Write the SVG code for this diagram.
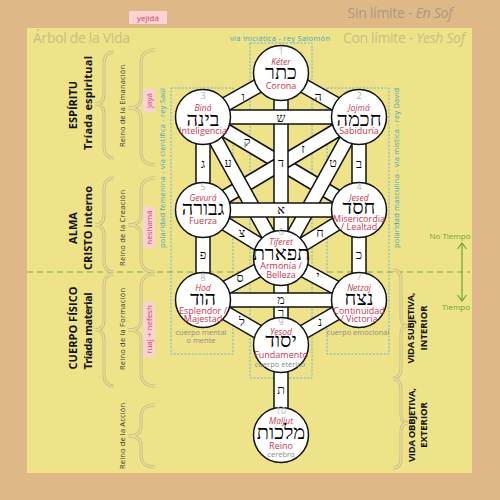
<svg xmlns="http://www.w3.org/2000/svg" width="500" height="500" viewBox="0 0 500 500">
<style>
.s{font-family:"Open Sans","Noto Sans","DejaVu Sans",sans-serif}
.he{font-family:"Liberation Serif","DejaVu Sans",serif;fill:#000}
.num{font-family:"Open Sans","Noto Sans",sans-serif;font-size:9px;fill:#b4b4b4;text-anchor:middle}
.nm{font-family:"Open Sans","Noto Sans",sans-serif;font-size:8.5px;font-style:italic;fill:#c8354f;text-anchor:middle}
.tr{font-family:"Open Sans","Noto Sans",sans-serif;font-size:9px;fill:#c8354f;text-anchor:middle}
.gr{font-family:"Open Sans","Noto Sans",sans-serif;font-size:7.5px;fill:#8c8c8c;text-anchor:middle}
.hb{font-size:20px;text-anchor:middle}
.pl{font-size:12.5px;text-anchor:middle}
.bo{stroke:#111;stroke-width:15.5;fill:none}
.bi{stroke:#fff;stroke-width:12.5;fill:none}
.circ{fill:#fff;stroke:#111;stroke-width:1.5}
.box{fill:none;stroke:#5ab0d6;stroke-width:0.9;stroke-dasharray:2 1.6}
.teal{fill:#3ea6c6;font-size:7.5px;text-anchor:middle}
.br1{fill:none;stroke:#c4bb8e;stroke-width:3}
.br2{fill:none;stroke:#efe38a;stroke-width:1.3}
.bold{font-weight:bold;fill:#111;text-anchor:middle}
.reino{font-size:7.5px;fill:#333;text-anchor:middle}
.pk{fill:#f9d3d6}
.pkt{font-size:8px;fill:#cf3f63;text-anchor:middle}
.grn{fill:#5fa83a;font-size:8px;text-anchor:middle}
</style>

<rect x="0" y="0" width="500" height="500" fill="#dfb887"/>
<rect x="27" y="28" width="445" height="445" fill="#efe38a"/>

<text class="s" x="400" y="18" text-anchor="middle" font-size="14" fill="#a89b86" textLength="105">Sin límite - <tspan font-style="italic">En Sof</tspan></text>
<text class="s" x="404" y="43" text-anchor="middle" font-size="14" fill="#c8bf80" textLength="122">Con límite - <tspan font-style="italic">Yesh Sof</tspan></text>
<text class="s" x="33" y="43" font-size="14" fill="#c8bf80" textLength="97">Árbol de la Vida</text>

<rect class="pk" x="129" y="11" width="38" height="13"/>
<text class="s pkt" x="148" y="20.5">yejidá</text>

<text class="s teal" x="280" y="40.5" textLength="100">vía iniciática - rey Salomón</text>

<!-- dashed boxes -->
<rect class="box" x="171" y="88" width="62" height="266"/>
<rect class="box" x="250" y="43" width="62" height="335"/>
<rect class="box" x="327" y="88" width="62" height="266"/>

<text class="s teal" transform="translate(165,168) rotate(-90)" textLength="160">polaridad femenina - vía científica - rey Saúl</text>
<text class="s teal" transform="translate(399,168) rotate(-90)" textLength="160">polaridad masculina - vía mística - rey David</text>

<!-- green time line -->
<line x1="27" y1="272" x2="470" y2="272" stroke="#72b040" stroke-width="1.2" stroke-dasharray="6 4"/>
<line x1="462" y1="243" x2="462" y2="301" stroke="#5fa83a" stroke-width="1.2"/>
<polyline points="457.5,249 462,243 466.5,249" fill="none" stroke="#5fa83a" stroke-width="1.2"/>
<polyline points="457.5,295 462,301 466.5,295" fill="none" stroke="#5fa83a" stroke-width="1.2"/>
<text class="s grn" x="450" y="239">No Tiempo</text>
<text class="s grn" x="456" y="310">Tiempo</text>

<g id="braces">
<path class="br1" d="M114,52 Q104,52 104,64 L104,94 Q104,104 95,104 Q104,104 104,114 L104,146 Q104,158 114,158"/>
<path class="br2" d="M114,52 Q104,52 104,64 L104,94 Q104,104 95,104 Q104,104 104,114 L104,146 Q104,158 114,158"/>
<path class="br1" d="M114,178 Q104,178 104,190 L104,215 Q104,225 95,225 Q104,225 104,235 L104,260 Q104,272 114,272"/>
<path class="br2" d="M114,178 Q104,178 104,190 L104,215 Q104,225 95,225 Q104,225 104,235 L104,260 Q104,272 114,272"/>
<path class="br1" d="M114,274 Q104,274 104,286 L104,320 Q104,330 95,330 Q104,330 104,340 L104,374 Q104,386 114,386"/>
<path class="br2" d="M114,274 Q104,274 104,286 L104,320 Q104,330 95,330 Q104,330 104,340 L104,374 Q104,386 114,386"/>

<path class="br1" d="M155,50 Q141,50 141,64 L141,98 Q141,108 128,108 Q141,108 141,118 L141,151 Q141,165 155,165"/>
<path class="br2" d="M155,50 Q141,50 141,64 L141,98 Q141,108 128,108 Q141,108 141,118 L141,151 Q141,165 155,165"/>
<path class="br1" d="M155,178 Q141,178 141,192 L141,215 Q141,225 128,225 Q141,225 141,235 L141,258 Q141,272 155,272"/>
<path class="br2" d="M155,178 Q141,178 141,192 L141,215 Q141,225 128,225 Q141,225 141,235 L141,258 Q141,272 155,272"/>
<path class="br1" d="M155,274 Q141,274 141,288 L141,320 Q141,330 128,330 Q141,330 141,340 L141,372 Q141,386 155,386"/>
<path class="br2" d="M155,274 Q141,274 141,288 L141,320 Q141,330 128,330 Q141,330 141,340 L141,372 Q141,386 155,386"/>
<path class="br1" d="M155,405 Q141,405 141,417 L141,427 Q141,436 128,436 Q141,436 141,445 L141,455 Q141,467 155,467"/>
<path class="br2" d="M155,405 Q141,405 141,417 L141,427 Q141,436 128,436 Q141,436 141,445 L141,455 Q141,467 155,467"/>

<path class="br1" d="M393,270 Q401,270 401,280 L401,318 Q401,326 408,326 Q401,326 401,334 L401,368 Q401,378 393,378"/>
<path class="br2" d="M393,270 Q401,270 401,280 L401,318 Q401,326 408,326 Q401,326 401,334 L401,368 Q401,378 393,378"/>
<path class="br1" d="M393,379 Q401,379 401,389 L401,415 Q401,423 408,423 Q401,423 401,431 L401,458 Q401,468 393,468"/>
<path class="br2" d="M393,379 Q401,379 401,389 L401,415 Q401,423 408,423 Q401,423 401,431 L401,458 Q401,468 393,468"/>
</g>

<g class="s">
<text class="bold" font-size="11" transform="translate(77,105) rotate(-90)">ESPÍRITU</text>
<text class="bold" font-size="11" transform="translate(92,103) rotate(-90)" textLength="94">Tríada espiritual</text>
<text class="bold" font-size="11" transform="translate(77,228) rotate(-90)">ALMA</text>
<text class="bold" font-size="11" transform="translate(92,228) rotate(-90)" textLength="84">CRISTO interno</text>
<text class="bold" font-size="11" transform="translate(77,328) rotate(-90)" textLength="83">CUERPO FÍSICO</text>
<text class="bold" font-size="11" transform="translate(92,331) rotate(-90)" textLength="77">Tríada material</text>

<text class="reino" transform="translate(125,106) rotate(-90)" textLength="82">Reino de la Emanación</text>
<text class="reino" transform="translate(125,228) rotate(-90)" textLength="76">Reino de la Creación</text>
<text class="reino" transform="translate(125,329) rotate(-90)" textLength="82">Reino de la Formación</text>
<text class="reino" transform="translate(125,436) rotate(-90)" textLength="66">Reino de la Acción</text>

<rect class="pk" x="143" y="89" width="12" height="23"/>
<text class="pkt" transform="translate(152,100.5) rotate(-90)">jayá</text>
<rect class="pk" x="143" y="207" width="12" height="41"/>
<text class="pkt" transform="translate(152,227.5) rotate(-90)">neshamá</text>
<rect class="pk" x="143" y="302" width="12" height="55"/>
<text class="pkt" transform="translate(152,329.5) rotate(-90)">rúaj + nefesh</text>

<text class="bold" font-size="9.5" transform="translate(414,328) rotate(-90)" textLength="71">VIDA SUBJETIVA,</text>
<text class="bold" font-size="9.5" transform="translate(427,328) rotate(-90)">INTERIOR</text>
<text class="bold" font-size="9.5" transform="translate(415,425) rotate(-90)" textLength="74">VIDA OBBJETIVA,</text>
<text class="bold" font-size="9.5" transform="translate(427,425) rotate(-90)">EXTERIOR</text>
</g>

<g id="connectors">
<line class="bo" x1="281" y1="73" x2="359" y2="117"/><line class="bi" x1="281" y1="73" x2="359" y2="117"/>
<line class="bo" x1="281" y1="73" x2="203" y2="117"/><line class="bi" x1="281" y1="73" x2="203" y2="117"/>
<line class="bo" x1="203" y1="117" x2="359" y2="210"/><line class="bi" x1="203" y1="117" x2="359" y2="210"/>
<line class="bo" x1="359" y1="117" x2="203" y2="210"/><line class="bi" x1="359" y1="117" x2="203" y2="210"/>
<line class="bo" x1="203" y1="117" x2="281" y2="258"/><line class="bi" x1="203" y1="117" x2="281" y2="258"/>
<line class="bo" x1="359" y1="117" x2="281" y2="258"/><line class="bi" x1="359" y1="117" x2="281" y2="258"/>
<line class="bo" x1="203" y1="210" x2="281" y2="258"/><line class="bi" x1="203" y1="210" x2="281" y2="258"/>
<line class="bo" x1="359" y1="210" x2="281" y2="258"/><line class="bi" x1="359" y1="210" x2="281" y2="258"/>
<line class="bo" x1="281" y1="258" x2="203" y2="300"/><line class="bi" x1="281" y1="258" x2="203" y2="300"/>
<line class="bo" x1="281" y1="258" x2="359" y2="300"/><line class="bi" x1="281" y1="258" x2="359" y2="300"/>
<line class="bo" x1="203" y1="300" x2="281" y2="345"/><line class="bi" x1="203" y1="300" x2="281" y2="345"/>
<line class="bo" x1="359" y1="300" x2="281" y2="345"/><line class="bi" x1="359" y1="300" x2="281" y2="345"/>
<line class="bo" x1="281" y1="73" x2="281" y2="258"/><line class="bi" x1="281" y1="73" x2="281" y2="258"/>
<line class="bo" x1="203" y1="117" x2="203" y2="300"/><line class="bi" x1="203" y1="117" x2="203" y2="300"/>
<line class="bo" x1="359" y1="117" x2="359" y2="300"/><line class="bi" x1="359" y1="117" x2="359" y2="300"/>
<line class="bo" x1="281" y1="258" x2="281" y2="435"/><line class="bi" x1="281" y1="258" x2="281" y2="435"/>
<line class="bo" x1="203" y1="117" x2="359" y2="117"/><line class="bi" x1="203" y1="117" x2="359" y2="117"/>
<line class="bo" x1="203" y1="210" x2="359" y2="210"/><line class="bi" x1="203" y1="210" x2="359" y2="210"/>
<line class="bo" x1="203" y1="300" x2="359" y2="300"/><line class="bi" x1="203" y1="300" x2="359" y2="300"/>
<g class="he pl">
<text x="318" y="101">ה</text>
<text x="243" y="101">ו</text>
<text x="281" y="122">ש</text>
<text x="247" y="146">ק</text>
<text x="303" y="153">ז</text>
<text x="228" y="167">ע</text>
<text x="333" y="167">ט</text>
<text x="203" y="168">ג</text>
<text x="359" y="168">ב</text>
<text x="281" y="167">ד</text>
<text x="281" y="214">א</text>
<text x="242" y="237">צ</text>
<text x="320" y="237">ח</text>
<text x="203" y="259">פ</text>
<text x="359" y="259">כ</text>
<text x="240" y="282">ס</text>
<text x="318" y="280">י</text>
<text x="281" y="304">מ</text>
<text x="281" y="317">ר</text>
<text x="242" y="326">ל</text>
<text x="320" y="326">נ</text>
<text x="281" y="394">ת</text>
</g>
</g>

<g id="keter">
<circle class="circ" cx="281" cy="73" r="27.5"/>
<text class="num" x="281" y="54">1</text>
<text class="nm" x="281" y="64.5">Kéter</text>
<text class="he hb" x="281" y="79">כתר</text>
<text class="tr" x="281" y="89">Corona</text>
</g>
<g id="bina">
<circle class="circ" cx="203" cy="117" r="27.5"/>
<text class="num" x="203" y="99">3</text>
<text class="nm" x="203" y="110.5">Biná</text>
<text class="he hb" x="203" y="126">בינה</text>
<text class="tr" x="203" y="134">Inteligencia</text>
</g>
<g id="jojma">
<circle class="circ" cx="359" cy="117" r="27.5"/>
<text class="num" x="359" y="99">2</text>
<text class="nm" x="359" y="110.5">Jojmá</text>
<text class="he hb" x="359" y="126">חכמה</text>
<text class="tr" x="359" y="134">Sabiduría</text>
</g>
<g id="gevura">
<circle class="circ" cx="203" cy="210" r="27.5"/>
<text class="num" x="203" y="190">5</text>
<text class="nm" x="203" y="200.5">Gevurá</text>
<text class="he hb" x="203" y="215">גבורה</text>
<text class="tr" x="203" y="224">Fuerza</text>
</g>
<g id="jesed">
<circle class="circ" cx="359" cy="210" r="27.5"/>
<text class="num" x="359" y="190">4</text>
<text class="nm" x="359" y="200.5">Jesed</text>
<text class="he hb" x="359" y="214">חסד</text>
<text class="tr" x="359" y="222">Misericordia</text>
<text class="tr" x="359" y="230">/ Lealtad</text>
</g>
<g id="tiferet">
<circle class="circ" cx="281" cy="258" r="27.5"/>
<text class="num" x="281" y="235">6</text>
<text class="nm" x="281" y="244.5">Tiferet</text>
<text class="he hb" x="281" y="260">תפארת</text>
<text class="tr" x="281" y="269">Armonía /</text>
<text class="tr" x="281" y="278">Belleza</text>
</g>
<g id="hod">
<circle class="circ" cx="203" cy="300" r="27.5"/>
<text class="num" x="203" y="281">8</text>
<text class="nm" x="203" y="290.5">Hod</text>
<text class="he hb" x="203" y="305">הוד</text>
<text class="tr" x="203" y="314">Esplendor /</text>
<text class="tr" x="203" y="322">Majestad</text>
<text class="gr" x="201" y="335">cuerpo mental</text>
<text class="gr" x="201" y="343">o mente</text>
</g>
<g id="netzaj">
<circle class="circ" cx="359" cy="300" r="27.5"/>
<text class="num" x="359" y="280">7</text>
<text class="nm" x="359" y="290.5">Netzaj</text>
<text class="he hb" x="359" y="305">נצח</text>
<text class="tr" x="359" y="314">Continuidad</text>
<text class="tr" x="359" y="322">/ Victoria</text>
<text class="gr" x="358" y="335">cuerpo emocional</text>
</g>
<g id="yesod">
<circle class="circ" cx="281" cy="345" r="27.5"/>
<text class="num" x="281" y="325">9</text>
<text class="nm" x="281" y="334.5">Yesod</text>
<text class="he hb" x="281" y="347">יסוד</text>
<text class="tr" x="281" y="358">Fundamento</text>
<text class="gr" x="280" y="367" font-size="8.5">cuerpo etérico</text>
</g>
<g id="maljut">
<circle class="circ" cx="281" cy="435" r="27.5"/>
<text class="num" x="281" y="414">10</text>
<text class="nm" x="281" y="423.5">Maljut</text>
<text class="he hb" x="281" y="439">מלכות</text>
<text class="tr" x="281" y="449">Reino</text>
<text class="gr" x="281" y="457" font-size="8.5">cerebro</text>
</g>
</svg>
